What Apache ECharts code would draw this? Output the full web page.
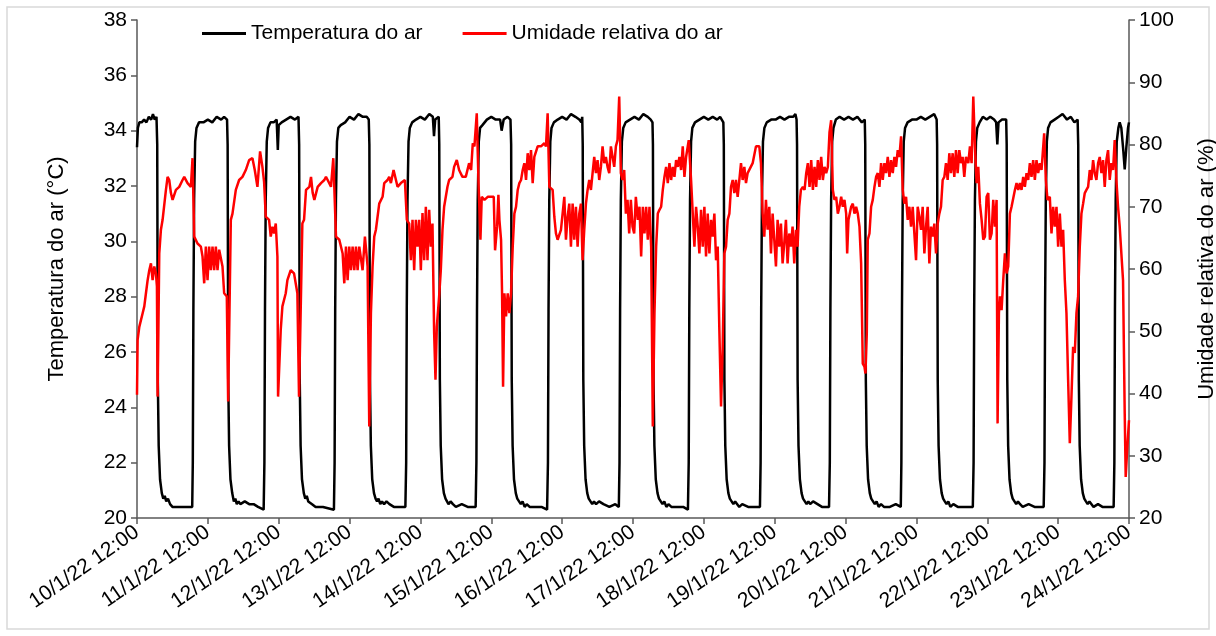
<!DOCTYPE html>
<html><head><meta charset="utf-8">
<script src="https://cdn.jsdelivr.net/npm/echarts@6/dist/echarts.min.js"></script>
<style>html,body{margin:0;padding:0;background:#fff}#c{width:1216px;height:636px}</style>
</head><body><div id="c"></div>
<script>
// x values are hours after 10/1/22 12:00
const tickLabels = ['10/1/22 12:00','11/1/22 12:00','12/1/22 12:00','13/1/22 12:00','14/1/22 12:00','15/1/22 12:00','16/1/22 12:00','17/1/22 12:00','18/1/22 12:00','19/1/22 12:00','20/1/22 12:00','21/1/22 12:00','22/1/22 12:00','23/1/22 12:00','24/1/22 12:00'];
const seriesNames = ['Temperatura do ar','Umidade relativa do ar'];

const temperature = [
[0,33.4],[0.3,34.1],[0.8,34.3],[1.6,34.3],[2.4,34.4],[3.2,34.3],[4.0,34.5],[4.8,34.4],[5.4,34.6],[6.0,34.4],[6.6,34.5],
[6.85,33.5],[7.05,25.0],[7.35,22.6],[7.8,21.4],[8.4,20.9],[8.9,20.7],[9.4,20.8],[9.9,20.6],[10.5,20.7],[11.2,20.5],[12.0,20.4],[15.0,20.4],[18.7,20.4],
[18.9,22.0],[19.1,27.5],[19.35,31.5],[19.7,33.6],[20.15,34.1],[21.0,34.3],[22.5,34.3],[24.0,34.4],[25.5,34.3],[27.0,34.5],[28.5,34.4],[29.5,34.5],[30.5,34.4],
[30.7,33.5],[30.9,25.0],[31.2,22.6],[31.65,21.4],[32.25,20.9],[32.8,20.6],[33.3,20.7],[33.8,20.5],[34.4,20.6],[35.0,20.5],[36.5,20.6],[38.0,20.5],[39.5,20.5],[41.0,20.4],[42.9,20.3],
[43.15,22.0],[43.35,27.5],[43.6,31.5],[43.95,33.6],[44.4,34.1],[45.2,34.3],[46.3,34.3],[47.3,34.4],[47.7,33.3],[48.0,34.2],[49.0,34.3],[50.5,34.4],[52.0,34.5],[53.5,34.4],[54.7,34.5],
[54.92,33.5],[55.12,25.0],[55.42,22.6],[55.88,21.4],[56.5,20.9],[57.0,20.7],[57.5,20.8],[58.0,20.6],[58.6,20.6],[59.3,20.5],[60.5,20.4],[63.0,20.4],[66.7,20.3],
[66.93,22.0],[67.13,27.5],[67.38,31.5],[67.73,33.6],[68.2,34.1],[69.0,34.2],[70.5,34.3],[72.0,34.5],[73.5,34.4],[75.0,34.6],[76.5,34.5],[77.8,34.5],[78.5,34.4],
[78.71,33.5],[78.91,25.0],[79.21,22.6],[79.67,21.4],[80.27,20.9],[80.8,20.7],[81.3,20.6],[81.8,20.7],[82.4,20.5],[83.0,20.6],[83.7,20.5],[84.5,20.6],[85.5,20.5],[87.0,20.4],[90.9,20.4],
[91.17,22.0],[91.37,27.5],[91.62,31.5],[91.97,33.6],[92.4,34.1],[93.2,34.3],[94.5,34.4],[96.0,34.5],[97.5,34.4],[99.0,34.6],[100.2,34.5],[100.6,33.8],[101.0,34.4],[102.2,34.5],
[102.38,33.5],[102.58,25.0],[102.88,22.6],[103.34,21.4],[103.94,20.9],[104.5,20.7],[105.0,20.6],[105.5,20.5],[106.2,20.6],[107.0,20.5],[108.0,20.4],[110.0,20.5],[112.0,20.4],[114.7,20.4],
[114.96,22.0],[115.16,27.5],[115.41,31.5],[115.76,33.6],[116.2,34.1],[117.0,34.2],[118.5,34.4],[120.0,34.5],[121.5,34.4],[123.0,34.4],[123.5,34.0],[124.2,34.4],[125.5,34.5],[126.5,34.4],
[126.73,33.5],[126.93,25.0],[127.23,22.6],[127.69,21.4],[128.3,20.9],[128.8,20.7],[129.4,20.6],[130.0,20.5],[130.6,20.6],[131.3,20.4],[132.0,20.5],[133.0,20.4],[135.0,20.4],[137.0,20.4],[138.9,20.3],
[139.19,22.0],[139.39,27.5],[139.64,31.5],[139.99,33.6],[140.4,34.1],[141.2,34.3],[142.5,34.4],[144.0,34.5],[145.5,34.4],[147.0,34.6],[148.5,34.5],[149.8,34.4],[150.5,34.3],[150.8,34.5],
[150.97,33.5],[151.17,25.0],[151.47,22.6],[151.93,21.4],[152.5,20.9],[153.0,20.7],[153.6,20.6],[154.2,20.5],[154.8,20.6],[155.5,20.5],[156.5,20.6],[158.0,20.5],[160.0,20.4],[162.0,20.5],[163.2,20.4],
[163.43,22.0],[163.63,27.5],[163.88,31.5],[164.23,33.6],[164.7,34.1],[165.5,34.3],[167.0,34.4],[168.5,34.5],[170.0,34.4],[171.5,34.6],[173.0,34.5],[174.0,34.4],[174.6,34.3],
[174.75,33.5],[174.95,25.0],[175.25,22.6],[175.71,21.4],[176.3,20.9],[176.8,20.7],[177.4,20.6],[178.0,20.5],[178.6,20.6],[179.3,20.4],[180.0,20.5],[181.0,20.4],[183.0,20.4],[185.0,20.4],[186.6,20.3],
[186.87,22.0],[187.07,27.5],[187.32,31.5],[187.67,33.6],[188.1,34.1],[189.0,34.3],[190.5,34.4],[192.0,34.5],[193.5,34.4],[195.0,34.5],[196.5,34.4],[197.5,34.5],[198.6,34.3],
[198.76,33.5],[198.96,25.0],[199.26,22.6],[199.72,21.4],[200.3,20.9],[200.8,20.7],[201.4,20.6],[202.0,20.5],[202.6,20.6],[203.3,20.5],[204.0,20.4],[205.0,20.5],[207.0,20.4],[209.0,20.4],[211.0,20.4],
[211.22,22.0],[211.42,27.5],[211.67,31.5],[212.02,33.6],[212.5,34.1],[213.3,34.3],[214.8,34.4],[216.3,34.4],[217.8,34.5],[219.3,34.4],[220.8,34.5],[222.3,34.5],[223.0,34.6],[223.4,34.4],
[223.56,33.5],[223.76,25.0],[224.06,22.6],[224.52,21.4],[225.1,20.9],[225.6,20.7],[226.2,20.6],[226.8,20.5],[227.4,20.6],[228.0,20.5],[229.0,20.6],[230.5,20.5],[232.0,20.4],[234.4,20.4],
[234.66,22.0],[234.86,27.5],[235.11,31.5],[235.46,33.6],[235.9,34.1],[236.7,34.4],[238.0,34.5],[239.5,34.4],[241.0,34.5],[242.5,34.4],[244.0,34.5],[245.5,34.3],[246.5,34.4],
[246.66,33.5],[246.86,25.0],[247.16,22.6],[247.62,21.4],[248.2,20.9],[248.7,20.7],[249.3,20.6],[249.9,20.5],[250.5,20.6],[251.2,20.4],[252.0,20.5],[253.0,20.4],[255.0,20.4],[257.0,20.5],[258.7,20.4],
[258.9,22.0],[259.1,27.5],[259.35,31.5],[259.7,33.6],[260.15,34.1],[261.0,34.3],[262.5,34.4],[264.0,34.4],[265.5,34.5],[267.0,34.4],[268.5,34.5],[270.0,34.6],[270.85,34.4],
[271.01,33.5],[271.21,25.0],[271.51,22.6],[271.97,21.4],[272.55,20.9],[273.05,20.7],[273.6,20.6],[274.2,20.5],[274.8,20.6],[275.5,20.4],[276.5,20.5],[278.0,20.4],[280.0,20.4],[283.1,20.4],
[283.36,22.0],[283.56,27.5],[283.81,31.5],[284.16,33.6],[284.6,34.1],[285.4,34.3],[286.5,34.5],[287.8,34.4],[289.0,34.5],[290.3,34.4],[291.0,34.3],[291.4,33.5],[291.8,34.3],[293.0,34.4],[294.4,34.4],
[294.57,33.5],[294.77,25.0],[295.07,22.6],[295.53,21.4],[296.1,20.9],[296.6,20.7],[297.2,20.6],[297.8,20.5],[298.4,20.6],[299.1,20.5],[300.0,20.4],[302.0,20.5],[304.0,20.4],[307.1,20.4],
[307.37,22.0],[307.57,27.5],[307.82,31.5],[308.17,33.6],[308.6,34.1],[309.4,34.3],[310.8,34.4],[312.2,34.5],[313.5,34.6],[315.0,34.4],[316.3,34.5],[317.5,34.3],[318.6,34.4],
[318.8,33.5],[319.0,25.0],[319.3,22.6],[319.76,21.4],[320.35,20.9],[320.85,20.7],[321.4,20.6],[322.0,20.5],[322.6,20.6],[323.3,20.5],[324.0,20.4],[325.5,20.5],[327.0,20.4],[329.0,20.4],[330.8,20.4],
[331.04,22.0],[331.24,27.5],[331.49,31.5],[331.84,33.6],[332.4,34.1],[332.85,34.3],[333.4,34.1],[333.98,33.4],[334.55,32.6],[335.1,33.4],[335.67,34.1],[336.0,34.3]
];

const humidity = [
[0,39.8],[0.21,48.6],[0.78,50.7],[1.91,52.9],[2.47,54.0],[3.03,56.1],[3.6,58.2],[4.16,59.8],[4.72,60.9],[5.29,58.2],[5.85,60.4],[6.41,59.3],[6.75,57.2],[6.98,39.5],
[7.54,62.5],[8.1,66.3],[8.67,67.9],[9.8,72.7],[10.36,74.8],[10.92,74.3],[11.49,72.2],[12.05,71.1],[13.18,72.7],[14.3,73.2],[15.43,74.3],[16.0,74.8],[17.12,73.8],[18.25,73.2],[18.81,77.8],
[19.38,65.2],[20.5,64.1],[21.63,63.6],[22.2,62.0],[22.76,57.7],[23.32,63.6],[23.89,58.2],[24.45,63.6],[25.01,59.8],[25.58,63.6],[26.14,59.8],[26.7,63.6],[27.27,59.8],[27.83,63.1],[28.96,60.4],[29.52,56.1],[30.42,55.6],[30.87,38.7],
[31.78,67.9],[32.34,68.9],[33.47,72.7],[34.59,74.3],[35.72,74.8],[36.85,75.9],[37.98,77.5],[39.1,77.8],[39.89,75.9],[40.79,73.2],[41.69,78.9],[42.48,76.4],[43.05,74.0],
[43.61,68.4],[44.74,67.9],[45.3,65.2],[45.87,66.8],[46.43,65.7],[47.0,67.3],[47.56,62.0],[47.78,39.5],[48.68,50.2],[49.25,54.0],[50.38,56.1],[50.94,58.2],[52.06,59.8],[53.19,59.3],[54.32,56.1],[54.88,39.5],
[56.01,67.3],[56.58,67.9],[57.25,72.7],[58.38,73.2],[58.94,74.8],[59.51,72.2],[60.07,71.1],[61.2,73.2],[62.32,73.8],[63.45,74.3],[64.01,74.8],[64.58,74.3],[65.7,73.2],[66.49,77.8],
[67.4,65.2],[68.52,64.7],[69.65,62.5],[70.21,57.7],[70.78,63.6],[71.34,58.2],[71.9,63.6],[72.47,59.8],[73.03,63.6],[73.6,59.8],[74.16,63.6],[74.72,59.8],[75.29,63.6],[76.41,59.8],[77.2,65.2],[78.1,60.4],[78.67,34.7],
[79.23,52.9],[79.79,60.4],[80.36,65.2],[80.92,66.3],[82.05,70.5],[83.18,71.6],[83.74,73.8],[84.87,74.3],[85.43,74.8],[86.0,73.8],[86.9,75.9],[88.25,73.2],[89.38,73.8],[90.73,74.3],
[91.4,67.9],[92.19,67.3],[92.76,61.4],[93.32,67.9],[93.88,59.8],[94.45,67.9],[95.01,63.6],[95.58,67.9],[96.14,59.8],[96.7,69.0],[97.27,61.4],[97.83,70.0],[98.39,61.4],[98.96,69.5],[99.52,63.6],[100.08,67.3],[100.65,49.7],[101.1,42.2],[101.55,50.7],[102.34,55.6],
[102.9,59.8],[103.47,66.3],[104.03,70.0],[105.16,73.2],[105.72,74.3],[106.85,74.8],[107.41,76.4],[108.31,77.5],[109.1,75.9],[110.23,74.8],[111.36,74.8],[112.48,77.0],[113.17,75.9],[113.73,80.2],[114.29,79.7],[115.08,85.0],
[115.65,74.3],[116.32,64.7],[116.77,71.6],[117.68,71.1],[118.8,71.6],[119.93,71.6],[120.83,71.6],[121.28,63.0],[121.96,66.8],[122.41,71.9],[122.75,67.9],[123.31,64.7],[123.65,56.1],[123.99,41.1],[124.44,56.1],[125.0,52.4],[125.57,56.1],[126.13,52.9],[126.69,56.1],
[127.26,63.6],[127.82,68.9],[128.38,70.0],[128.95,72.7],[129.51,73.8],[130.08,74.3],[130.64,75.9],[131.2,77.0],[131.77,74.3],[132.33,78.6],[132.89,75.9],[133.46,79.1],[134.02,73.8],[134.58,78.0],[135.71,79.7],[136.84,79.7],[137.97,80.2],[138.53,79.7],[139.09,85.0],
[139.66,73.2],[140.78,72.7],[141.35,68.4],[141.91,65.7],[142.47,64.7],[143.6,66.3],[144.73,71.6],[145.29,64.7],[145.86,68.4],[146.42,70.5],[146.98,63.6],[147.55,70.5],[148.11,64.7],[148.67,70.0],[149.24,63.6],[149.8,68.9],[150.36,70.5],[150.93,61.4],
[151.49,66.3],[152.06,70.5],[152.62,72.7],[153.18,74.3],[153.75,72.7],[154.31,75.4],[154.87,78.0],[155.44,75.4],[156.0,77.5],[156.56,74.3],[157.13,76.4],[157.69,79.7],[158.26,77.0],[158.82,78.0],[159.38,76.4],[159.95,75.4],[160.51,79.7],[161.07,79.7],[161.64,76.4],[162.2,79.7],[162.76,80.7],[163.33,87.7],
[163.89,75.4],[164.45,74.3],[165.02,75.9],[165.58,68.9],[166.15,71.1],[166.71,65.7],[167.27,71.1],[167.84,66.8],[168.4,65.7],[168.96,71.6],[169.64,67.9],[170.2,70.0],[170.76,62.0],[171.33,70.0],[171.89,65.7],[172.46,70.0],[173.02,64.7],[173.58,70.0],[174.15,63.6],[174.71,34.7],
[175.27,52.9],[175.84,63.6],[176.4,68.9],[176.96,69.5],[177.53,70.0],[178.09,72.7],[178.65,74.8],[179.22,76.4],[179.78,73.8],[180.35,77.0],[180.91,74.3],[181.47,76.4],[182.04,74.8],[182.6,77.5],[183.16,76.4],[183.73,78.0],[184.29,75.9],[184.85,79.7],[185.42,74.8],[185.98,78.0],[186.88,80.7],
[187.67,74.3],[188.24,68.9],[188.8,63.6],[189.36,70.0],[189.93,66.8],[190.49,62.5],[191.05,69.5],[191.62,63.6],[192.18,70.0],[192.74,62.0],[193.31,68.9],[193.87,62.5],[194.44,67.9],[195.0,65.2],[195.56,68.9],[196.13,61.4],[196.69,63.6],[197.25,50.2],[197.82,37.9],[198.38,47.5],
[198.94,62.5],[199.51,63.6],[200.07,67.9],[200.64,68.9],[201.2,73.2],[201.76,74.3],[202.33,72.2],[202.89,74.3],[203.45,71.6],[204.02,74.3],[204.58,77.0],[205.14,74.3],[205.71,76.4],[206.27,73.8],[206.83,75.4],[207.4,75.4],[208.53,77.0],[209.65,79.7],[210.78,79.7],[211.34,77.0],
[211.91,68.9],[212.47,65.2],[213.03,71.1],[213.6,66.3],[214.16,70.0],[214.73,62.5],[215.29,68.9],[215.85,64.7],[216.42,60.4],[216.98,67.9],[217.54,63.6],[218.11,67.3],[218.67,60.9],[219.23,64.1],[219.8,67.9],[220.36,60.9],[220.92,65.7],[221.49,63.6],[222.05,66.8],[222.62,60.9],[223.18,66.3],[223.74,63.6],
[224.31,70.0],[224.87,72.7],[225.54,73.2],[226.11,72.7],[226.67,75.4],[227.23,77.0],[227.8,73.2],[228.36,77.5],[228.93,72.7],[229.49,76.4],[230.05,73.2],[230.62,77.5],[231.18,74.3],[231.74,78.0],[232.31,74.3],[232.87,76.4],[233.43,75.4],[234.0,76.4],[234.56,82.0],[235.12,83.9],
[235.69,72.7],[236.25,71.1],[236.82,71.6],[237.38,68.9],[237.94,70.0],[238.51,71.6],[239.07,70.0],[239.63,71.1],[240.2,68.9],[240.54,62.5],[240.99,67.9],[241.89,70.0],[242.45,70.5],[243.02,68.9],[243.58,70.0],[244.14,68.9],[244.71,66.8],[245.27,60.9],[245.83,44.8],[246.4,44.3],[246.74,43.2],[247.19,49.7],
[247.52,64.7],[248.09,65.7],[248.65,70.0],[249.21,71.1],[249.78,73.2],[250.34,74.8],[250.91,75.4],[251.47,73.2],[252.03,77.0],[252.6,74.3],[253.16,77.0],[253.72,75.4],[254.29,78.0],[254.85,74.8],[255.41,77.5],[255.98,75.4],[256.54,78.0],[257.1,76.4],[257.67,79.1],[258.23,78.0],[258.8,81.3],
[259.36,72.7],[259.92,70.5],[260.49,71.6],[261.05,67.9],[261.61,70.0],[262.18,66.8],[262.74,70.0],[263.3,65.7],[263.87,61.4],[264.43,70.0],[265.0,68.4],[265.56,66.3],[266.12,70.0],[266.69,62.5],[267.25,66.8],[267.81,70.0],[268.38,60.9],[268.94,66.8],[269.5,65.2],[270.07,67.3],[270.63,62.5],[271.2,67.3],
[271.76,68.9],[272.32,70.0],[272.89,74.3],[273.45,74.8],[274.01,77.0],[274.58,74.3],[275.14,78.6],[275.7,75.4],[276.27,78.6],[276.83,74.8],[277.39,79.1],[277.96,75.4],[278.52,79.1],[279.09,77.0],[279.65,78.0],[280.21,74.8],[280.78,78.0],[281.57,77.0],[282.13,79.7],[282.69,77.0],[283.26,87.7],
[283.82,79.7],[284.39,73.8],[284.95,76.4],[285.51,70.5],[286.08,67.9],[286.64,64.7],[287.2,65.2],[287.77,71.6],[288.33,72.2],[288.89,64.7],[289.46,65.7],[290.02,71.1],[290.58,66.8],[291.15,71.1],[291.49,35.2],[291.94,52.9],[292.28,55.6],[292.84,53.4],[293.4,58.2],[293.97,62.5],[294.53,59.3],
[295.09,60.4],[295.66,68.9],[296.22,70.0],[296.78,70.0],[297.35,72.7],[297.91,73.8],[298.48,72.7],[299.04,73.8],[299.6,72.7],[300.17,74.8],[300.73,73.2],[301.29,75.4],[301.86,74.3],[302.42,77.0],[302.98,74.8],[303.55,77.5],[304.11,74.3],[304.67,77.5],[305.24,75.4],[305.8,77.0],[306.37,75.9],[307.27,81.8],
[307.83,74.3],[308.39,71.1],[309.18,71.6],[309.75,65.7],[310.31,70.0],[310.87,66.8],[311.44,70.0],[312.0,63.6],[312.57,68.9],[313.13,63.6],[313.69,66.3],[314.26,58.2],[314.82,52.9],[315.38,42.2],[315.95,32.0],[316.51,39.5],[317.07,47.5],[317.64,46.5],[318.2,52.9],[318.76,55.6],
[319.33,63.6],[319.89,68.9],[320.46,70.5],[321.02,72.2],[321.58,72.7],[322.15,73.2],[322.71,75.9],[323.27,74.3],[323.84,77.5],[324.4,75.4],[324.96,74.3],[325.53,77.0],[326.09,78.0],[326.66,75.4],[327.22,77.5],[327.78,73.2],[328.35,77.5],[328.91,79.1],[329.47,74.3],[330.04,77.0],[330.6,75.9],[331.16,80.7],
[331.73,74.3],[332.29,70.0],[332.85,66.8],[333.42,66.8],[333.98,58.2],[334.55,36.8],[334.88,26.6],[335.45,31.5],[336.0,35.7]
];

const font = 'Liberation Sans, Arial, sans-serif';
const chart = echarts.init(document.getElementById('c'));
chart.setOption({
  animation: false,
  backgroundColor: '#ffffff',
  graphic: [{type:'rect', shape:{x:7,y:7,width:1202,height:622}, style:{fill:'none', stroke:'#d9d9d9', lineWidth:1.5}, silent:true}],
  legend: {
    data: seriesNames, left: 197, top: 18, icon: 'rect', itemWidth: 44, itemHeight: 3, itemGap: 40,
    textStyle: {fontFamily: font, fontSize: 21, color: '#000'}
  },
  grid: {left: 137, right: 87, top: 20, bottom: 118, containLabel: false, outerBoundsMode: 'none'},
  xAxis: {
    type: 'value', min: 0, max: 336, interval: 24,
    axisLine: {lineStyle: {color: '#595959', width: 1.5}},
    axisTick: {length: 6, lineStyle: {color: '#595959', width: 1.5}},
    splitLine: {show: false},
    axisLabel: {rotate: 35, fontFamily: font, fontSize: 21, color: '#000', margin: 12,
      formatter: v => tickLabels[Math.round(v/24)] || ''}
  },
  yAxis: [
    {type:'value', min:20, max:38, interval:2, name:'Temperatura do ar (°C)', nameLocation:'middle', nameGap:69,
     nameTextStyle:{fontFamily:font, fontSize:22, color:'#000'},
     axisLine:{show:true, lineStyle:{color:'#595959', width:1.5}}, axisTick:{show:true, length:6, lineStyle:{color:'#595959', width:1.5}},
     splitLine:{show:false}, axisLabel:{fontFamily:font, fontSize:21, color:'#000', margin:10}},
    {type:'value', min:20, max:100, interval:10, name:'Umidade relativa do ar (%)', nameLocation:'middle', nameGap:67,
     nameTextStyle:{fontFamily:font, fontSize:22, color:'#000'},
     axisLine:{show:true, lineStyle:{color:'#595959', width:1.5}}, axisTick:{show:true, length:6, lineStyle:{color:'#595959', width:1.5}},
     splitLine:{show:false}, axisLabel:{fontFamily:font, fontSize:21, color:'#000', margin:10}}
  ],
  series: [
    {name: seriesNames[0], type:'line', yAxisIndex:0, data: temperature, showSymbol:false, symbol:'none',
     lineStyle:{color:'#000000', width:2.5}, itemStyle:{color:'#000000'}},
    {name: seriesNames[1], type:'line', yAxisIndex:1, data: humidity, showSymbol:false, symbol:'none',
     lineStyle:{color:'#ff0000', width:2.5}, itemStyle:{color:'#ff0000'}}
  ]
});
</script></body></html>
